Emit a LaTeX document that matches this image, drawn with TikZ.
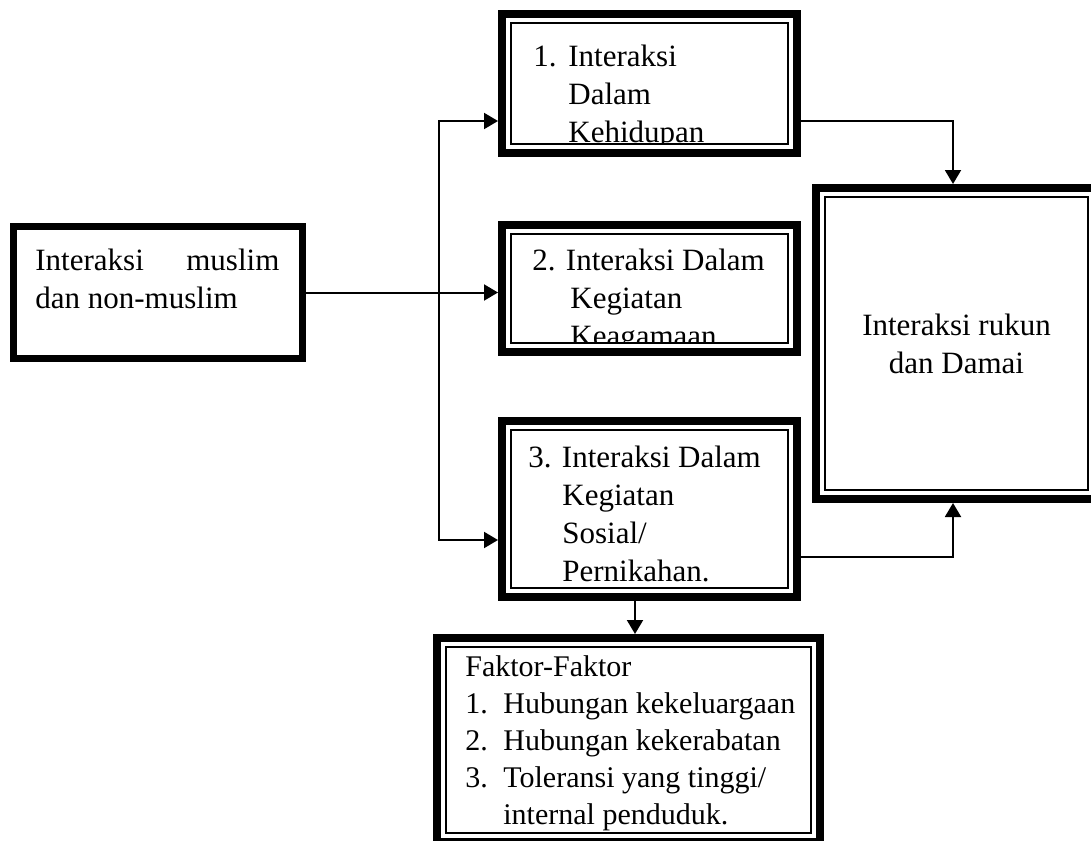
\documentclass[tikz,border=0pt]{standalone}
\usepackage{fontspec}
\setmainfont{Liberation Serif}
\usetikzlibrary{arrows.meta}

\tikzset{
  kotak/.style={draw, line width=4pt, outer sep=2pt, inner sep=0pt},
  garis dalam/.style={draw, line width=1pt},
  teks/.style={anchor=north west, inner sep=0pt, align=left, font=\fontsize{15.5}{19}\selectfont},
  panah/.style={line width=1pt, -{Triangle[width=8pt,length=7pt]}},
}

\begin{document}
\begin{tikzpicture}[x=0.5pt, y=-0.5pt]
\useasboundingbox (0,0) rectangle (1091,840);

%% === kotak-kotak ===
\node[draw, line width=3.5pt, outer sep=1.75pt, inner sep=0pt,
      minimum width=144.5pt, minimum height=66pt] (muslim) at (158,292.5) {};
\node[kotak, minimum width=147.5pt, minimum height=69.5pt]  (k1)     at (649.5,83.5)  {};
\node[kotak, minimum width=147.5pt, minimum height=63.5pt]  (k2)     at (649.5,288.5) {};
\node[kotak, minimum width=147.5pt, minimum height=88pt]    (k3)     at (649.5,509)   {};
\node[kotak, minimum width=140.5pt, minimum height=155.5pt] (rukun)  at (956.5,343.5) {};
\node[kotak, minimum width=191.5pt, minimum height=102pt]   (faktor) at (628.5,740)   {};

%% garis tipis di dalam (thick-thin)
\foreach \k in {k1,k2,k3,rukun,faktor}
    \draw[garis dalam] ([shift={(6.5pt,-6.5pt)}]\k.north west)
        rectangle ([shift={(-6.5pt,6.5pt)}]\k.south east);

%% === panah ===
\coordinate (cabang) at (439,292.5);
\draw[panah] (muslim.east) -- (muslim.east -| k2.west);
\draw[panah] (cabang) |- ([yshift=-18.75pt]k1.west);
\draw[panah] (cabang) |- ([yshift=-15.5pt]k3.west);
\draw[panah] ([yshift=-18.75pt]k1.east) -| ([xshift=-1.75pt]rukun.north);
\draw[panah] ([yshift=-24pt]k3.east) -| ([xshift=-1.75pt]rukun.south);
\draw[panah] ([xshift=-7.25pt]k3.south) -- ([xshift=-7.25pt]k3.south |- faktor.north);

%% === teks ===
\node[teks] (t0) at (35,243.4)
    {\strut\makebox[122pt][s]{Interaksi muslim}\\dan non-muslim};

%% teks 1 dan 2 terpotong oleh garis dalam
\begin{scope}
\clip ([shift={(7pt,-7pt)}]k1.north west) rectangle ([shift={(-7pt,7pt)}]k1.south east);
\node[teks] (t1) at (533,39.4)
    {\strut\makebox[17.5pt][l]{1.}Interaksi\\\hspace*{17.5pt}Dalam\\\hspace*{17.5pt}Kehidupan};
\end{scope}
\begin{scope}
\clip ([shift={(7pt,-7pt)}]k2.north west) rectangle ([shift={(-7pt,7pt)}]k2.south east);
\node[teks] (t2) at (532,243.4)
    {\strut 2. Interaksi Dalam\\\hspace*{19pt}Kegiatan\\\hspace*{19pt}Keagamaan};
\end{scope}

\node[teks] (t3) at (528,440.4)
    {\strut 3. Interaksi Dalam\\\hspace*{17pt}Kegiatan\\\hspace*{17pt}Sosial/\\\hspace*{17pt}Pernikahan.};
\node[teks, font=\fontsize{15}{18.5}\selectfont] (t4) at (465,650)
    {\strut Faktor-Faktor\\\makebox[19pt][l]{1.}Hubungan kekeluargaan\\\makebox[19pt][l]{2.}Hubungan kekerabatan\\\makebox[19pt][l]{3.}Toleransi yang tinggi/\\\hspace*{19pt}internal penduduk.};
\node[teks, anchor=center, align=center] (t5) at (rukun) {Interaksi rukun\\dan Damai};

\end{tikzpicture}
\end{document}
